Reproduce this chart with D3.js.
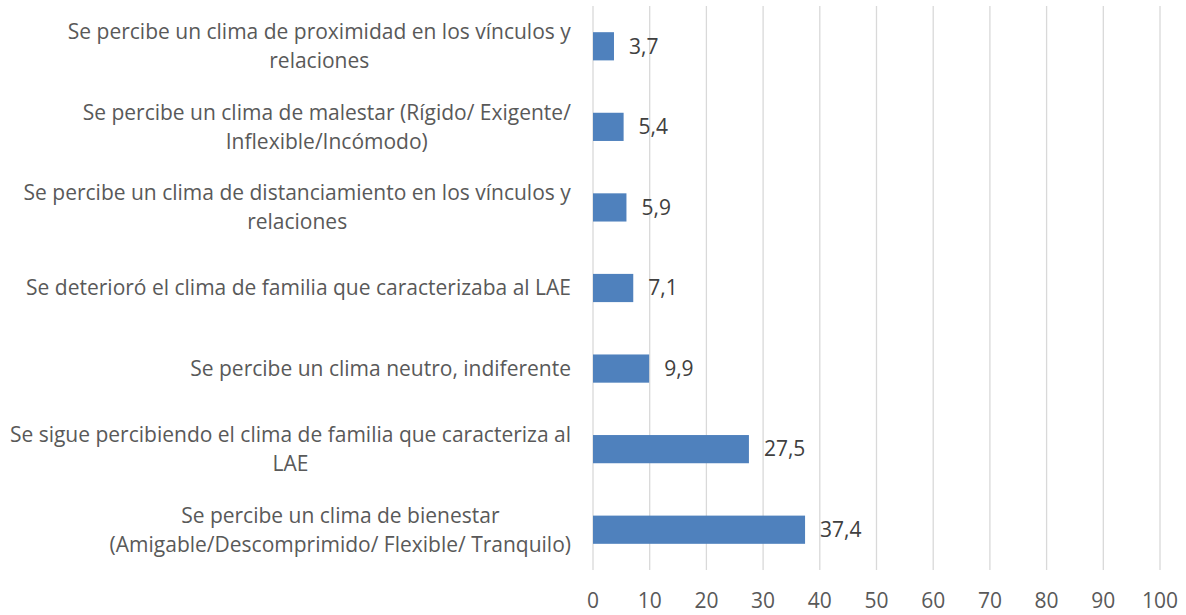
<!DOCTYPE html>
<html>
<head>
<meta charset="utf-8">
<script src="https://cdn.jsdelivr.net/npm/d3@7"></script>
<style>
  body { margin: 0; background: #fff; }
  text { font-family: "Open Sans", sans-serif; }
</style>
</head>
<body>
<div id="vis-container"></div>
<script>
// categories, top to bottom (each entry = its wrapped lines)
var categories = [
    ["Se percibe un clima de proximidad en los vínculos y", "relaciones"],
    ["Se percibe un clima de malestar (Rígido/ Exigente/", "Inflexible/Incómodo)"],
    ["Se percibe un clima de distanciamiento en los vínculos y", "relaciones"],
    ["Se deterioró el clima de familia que caracterizaba al LAE"],
    ["Se percibe un clima neutro, indiferente"],
    ["Se sigue percibiendo el clima de familia que caracteriza al", "LAE"],
    ["Se percibe un clima de bienestar", "(Amigable/Descomprimido/ Flexible/ Tranquilo)"]
];
var values = [3.7, 5.4, 5.9, 7.1, 9.9, 27.5, 37.4];
var xTicks = [0, 10, 20, 30, 40, 50, 60, 70, 80, 90, 100];

var width = 1186, height = 615;
var margin = {top: 6, right: 26, bottom: 45, left: 593};

var svg = d3.select("#vis-container").append("svg")
    .attr("width", width)
    .attr("height", height);

var x = d3.scaleLinear()
    .domain([0, 100])
    .range([margin.left, width - margin.right]);

var y = d3.scaleBand()
    .domain(d3.range(categories.length))
    .range([margin.top, height - margin.bottom])
    .paddingInner(0.65)
    .paddingOuter(0.325);

// gridlines
svg.append("g")
    .selectAll("line")
    .data(xTicks)
    .enter().append("line")
    .attr("x1", function(d) { return x(d); })
    .attr("x2", function(d) { return x(d); })
    .attr("y1", margin.top)
    .attr("y2", height - margin.bottom)
    .attr("stroke", "#d9d9d9")
    .attr("stroke-width", 1.3);

// bars
svg.append("g")
    .selectAll("rect")
    .data(values)
    .enter().append("rect")
    .attr("x", x(0))
    .attr("y", function(d, i) { return y(i); })
    .attr("width", function(d) { return x(d) - x(0); })
    .attr("height", y.bandwidth())
    .attr("fill", "#4f81bd");

// value labels
svg.append("g")
    .selectAll("text")
    .data(values)
    .enter().append("text")
    .attr("x", function(d) { return x(d) + 15; })
    .attr("y", function(d, i) { return y(i) + y.bandwidth() / 2; })
    .attr("dy", "0.35em")
    .attr("font-size", 21)
    .attr("fill", "#404040")
    .text(function(d) { return d3.format(".1f")(d).replace(".", ","); });

// category labels
var lineH = 29;
var labels = svg.append("g")
    .selectAll("text")
    .data(categories)
    .enter().append("text")
    .attr("text-anchor", "middle")
    .attr("font-size", 21)
    .attr("fill", "#595959");

labels.each(function(lines, i) {
    var t = d3.select(this);
    var cy = y(i) + y.bandwidth() / 2;
    var startY = cy - (lines.length - 1) * lineH / 2;
    lines.forEach(function(l, j) {
        t.append("tspan")
            .attr("x", 0)
            .attr("y", startY + j * lineH)
            .attr("dy", "0.35em")
            .text(l);
    });
});

// center each label block, right edge at the axis gap
labels.each(function() {
    var t = d3.select(this);
    var bb = this.getBBox();
    t.attr("transform", "translate(" + (571 - bb.width / 2) + ",0)");
});

// x axis tick labels
svg.append("g")
    .selectAll("text")
    .data(xTicks)
    .enter().append("text")
    .attr("x", function(d) { return x(d); })
    .attr("y", 601)
    .attr("dy", "0.35em")
    .attr("text-anchor", "middle")
    .attr("font-size", 21)
    .attr("fill", "#595959")
    .text(function(d) { return d; });
</script>
</body>
</html>
